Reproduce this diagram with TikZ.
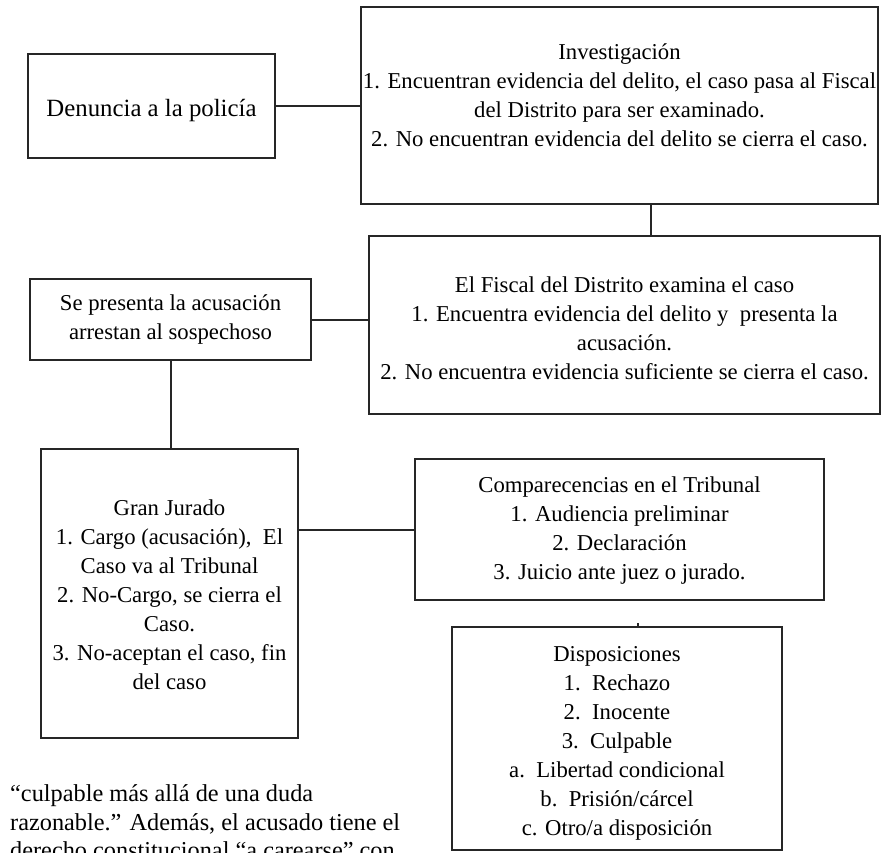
\documentclass[tikz,border=0pt]{standalone}
\usepackage{fontspec}
\setmainfont{Liberation Serif}
\definecolor{ink}{HTML}{262626}
\tikzset{
  boxtext/.style={align=center, inner sep=0pt,
    font=\fontsize{22.7}{29}\selectfont,
    execute at begin node=\strut, execute at end node=\strut},
  box/.style={draw=ink, line width=2pt, inner sep=0pt},
  link/.style={draw=ink, line width=2pt},
}
\begin{document}
\begin{tikzpicture}[x=1pt,y=-1pt]
\useasboundingbox (0,0) rectangle (883,853);
% boxes
\node[box, minimum width=247pt, minimum height=104pt] (den) at (151.5,106) {};
\node[boxtext, font=\fontsize{24.8}{29}\selectfont] (dentxt) at ([yshift=-5pt]den.center) {Denuncia a la policía};
\node[box, minimum width=517pt, minimum height=197pt] (inv) at (619.5,105.5) {};
\node[boxtext] (invtxt) at (619.5,99) {Investigación\\
1. Encuentran evidencia del delito, el caso pasa al Fiscal\\
del Distrito para ser examinado.\\
2. No encuentran evidencia del delito se cierra el caso.};
\node[box, minimum width=511pt, minimum height=178pt] (fis) at (624.5,325) {};
\node[boxtext] (fistxt) at ([yshift=-7pt]fis.center) {El Fiscal del Distrito examina el caso\\
1. Encuentra evidencia del delito y\ \ presenta la\\
acusación.\\
2. No encuentra evidencia suficiente se cierra el caso.};
\node[box, minimum width=281pt, minimum height=81pt] (sp) at (170.5,319.5) {};
\node[boxtext] (sptxt) at ([yshift=-2pt]sp.center) {Se presenta la acusación\\
arrestan al sospechoso};
\node[box, minimum width=257pt, minimum height=289pt] (gj) at (169.5,593.5) {};
\node[boxtext] (gjtxt) at ([yshift=-5pt]gj.center) {Gran Jurado\\
1. Cargo (acusación),\ \ El\\
Caso va al Tribunal\\
2. No-Cargo, se cierra el\\
Caso.\\
3. No-aceptan el caso, fin\\
del caso};
\node[box, minimum width=409pt, minimum height=141pt] (comp) at (619.5,529.5) {};
\node[boxtext] (comptxt) at ([yshift=-2.5pt]comp.center) {Comparecencias en el Tribunal\\
1. Audiencia preliminar\\
2. Declaración\\
3. Juicio ante juez o jurado.};
\node[box, minimum width=330pt, minimum height=223pt] (disp) at (617,738.5) {};
\node[boxtext] (disptxt) at ([yshift=-7pt]disp.center) {Disposiciones\\
1.\ \ Rechazo\\
2.\ \ Inocente\\
3.\ \ Culpable\\
a.\ \ Libertad condicional\\
b.\ \ Prisión/cárcel\\
c. Otro/a disposición};
% connectors
\draw[link] (den.east) -- (den.east -| inv.west);
\draw[link] ([xshift=31.5pt]inv.south) -- ([xshift=26.5pt]fis.north);
\draw[link] (sp.east) -- (sp.east -| fis.west);
\draw[link] (sp.south) -- (sp.south |- gj.north);
\draw[link] (comp.west) -- (comp.west -| gj.east);
\draw[draw=ink, line width=1.5pt] ([xshift=21pt]disp.north) -- ++(0,-3);
% running text below
\node[anchor=north west, align=left, inner sep=0pt, font=\fontsize{24.3}{28.5}\selectfont,
  execute at begin node=\strut] (body) at (10,784.5) {“culpable más allá de una duda\\
razonable.” Además, el acusado tiene el\\
derecho constitucional “a carearse” con};
\end{tikzpicture}
\end{document}
